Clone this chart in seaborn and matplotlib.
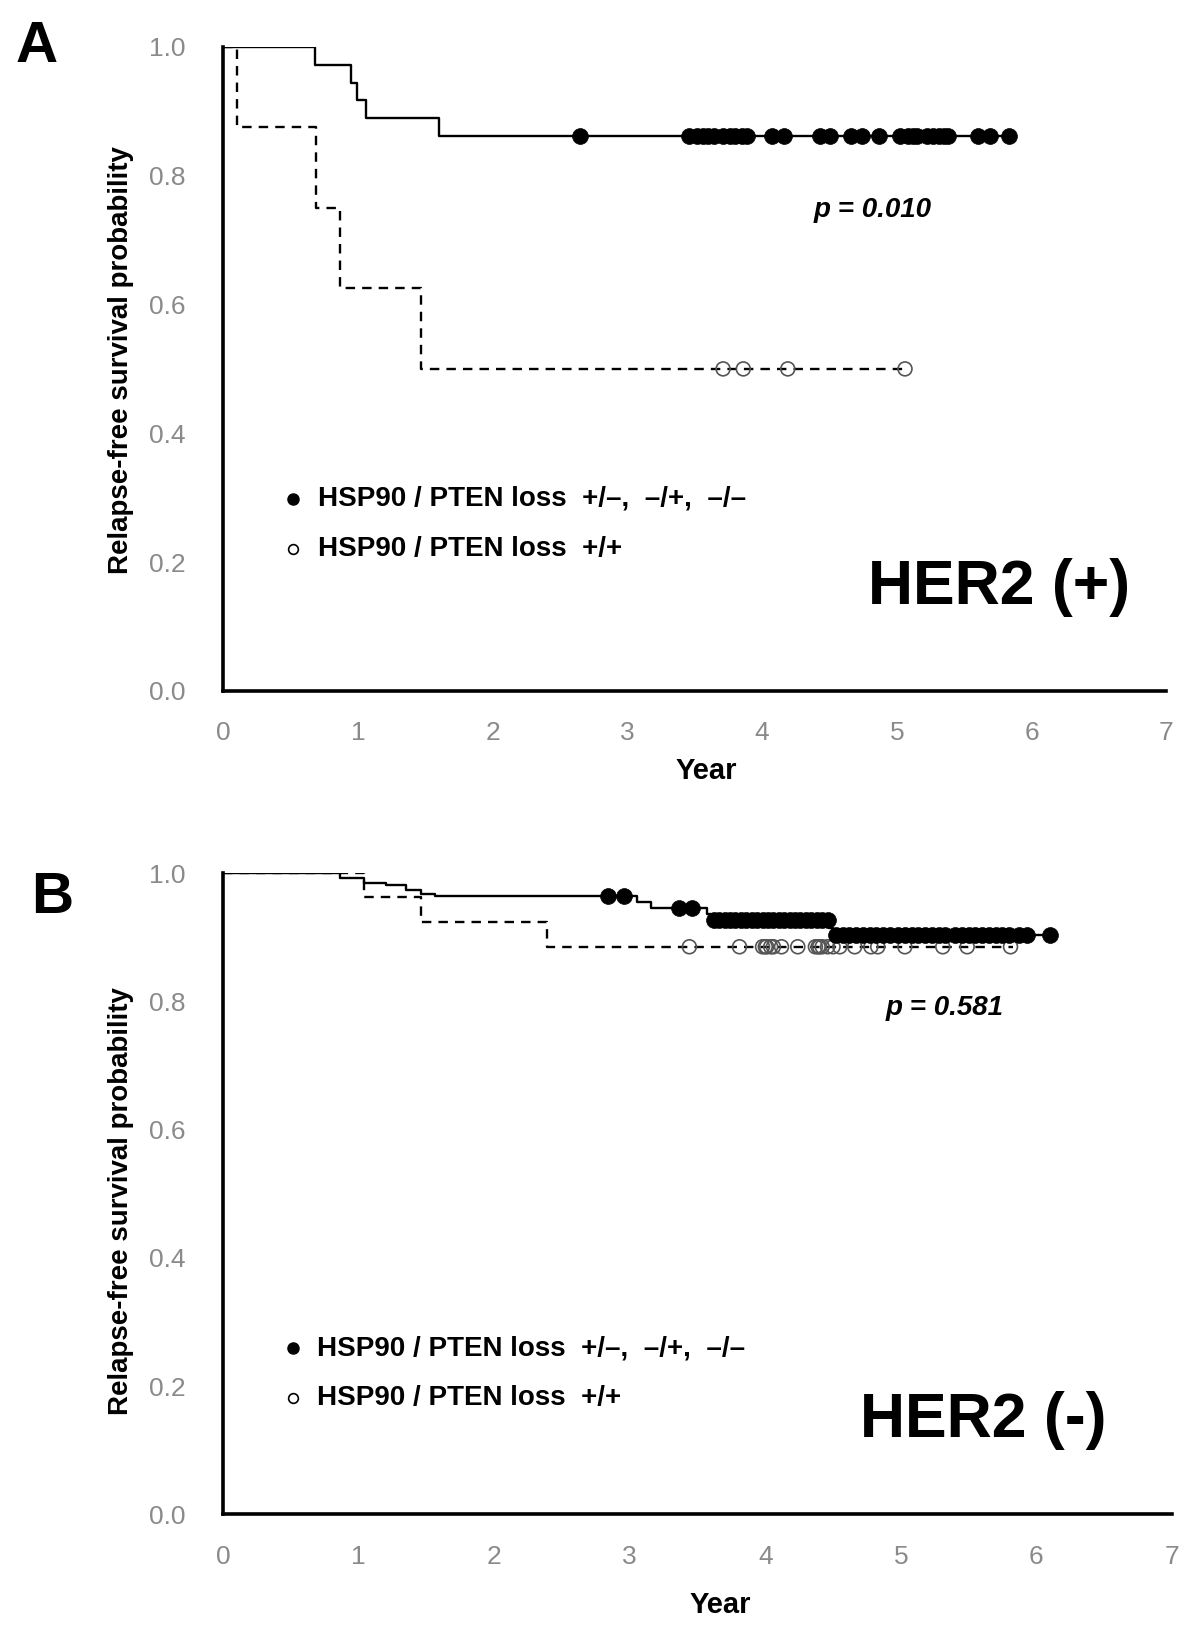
import matplotlib
matplotlib.use("Agg")
import matplotlib.pyplot as plt
import numpy as np
import pandas as pd
import seaborn as sns

sns.set_theme(style="white")
plt.rcParams['font.family'] = ['Liberation Sans', 'DejaVu Sans']
plt.rcParams['text.color'] = 'black'
plt.rcParams['axes.labelcolor'] = 'black'

NARROW = ['Liberation Sans Narrow', 'Liberation Sans', 'DejaVu Sans']
REG = ['Liberation Sans', 'DejaVu Sans']

# ---------------- data ----------------
# Panel A : HER2 (+)
a_solid_times = [0.0, 0.68, 0.95, 0.99, 1.06, 1.60]
a_solid_surv = [1.0, 0.972, 0.944, 0.917, 0.889, 0.861]
a_solid_end = 5.83
a_solid_cens = [2.65, 3.46, 3.52, 3.56, 3.60, 3.64, 3.71, 3.76, 3.80, 3.85, 3.89,
                4.07, 4.16, 4.43, 4.50, 4.66, 4.74, 4.87, 5.02, 5.08, 5.12, 5.15,
                5.22, 5.27, 5.31, 5.35, 5.38, 5.60, 5.69, 5.83]
a_dash_times = [0.0, 0.10, 0.69, 0.865, 1.47]
a_dash_surv = [1.0, 0.875, 0.75, 0.625, 0.5]
a_dash_end = 5.06
a_dash_cens = [3.71, 3.86, 4.19, 5.06]

# Panel B : HER2 (-)
b_solid_times = [0.0, 0.86, 1.04, 1.20, 1.35, 1.46, 1.56, 3.05, 3.16, 3.57, 3.60, 4.47, 4.50]
b_solid_surv = [1.0, 0.992, 0.985, 0.981, 0.973, 0.968, 0.964, 0.955, 0.945, 0.936, 0.927, 0.915, 0.904]
b_solid_end = 6.12
b_solid_cens = [2.84, 2.96, 3.36, 3.46,
                3.62, 3.66, 3.70, 3.74, 3.78, 3.82, 3.86, 3.90, 3.94, 3.98, 4.02, 4.06,
                4.10, 4.14, 4.18, 4.22, 4.26, 4.30, 4.34, 4.38, 4.42, 4.46,
                4.52, 4.57, 4.62, 4.67, 4.72, 4.77, 4.82, 4.87, 4.92,
                4.98, 5.03, 5.08, 5.13, 5.18, 5.23, 5.28, 5.33,
                5.40, 5.45, 5.50, 5.55, 5.60, 5.65, 5.70, 5.75, 5.80, 5.87, 5.93, 6.10]
b_dash_times = [0.0, 1.04, 1.46, 2.39]
b_dash_surv = [1.0, 0.962, 0.923, 0.885]
b_dash_end = 5.83
b_dash_cens = [3.44, 3.81, 3.98, 4.00, 4.01, 4.04, 4.06, 4.12, 4.24, 4.37, 4.39, 4.40,
               4.42, 4.46, 4.50, 4.55, 4.66, 4.78, 4.83, 5.03, 5.31, 5.49, 5.81]

x_ticks = [0, 1, 2, 3, 4, 5, 6, 7]
y_ticks = [0.0, 0.2, 0.4, 0.6, 0.8, 1.0]
legend_labels = ["HSP90 / PTEN loss  +/\u2013,  \u2013/+,  \u2013/\u2013",
                 "HSP90 / PTEN loss  +/+"]
y_label = "Relapse-free survival probability"
x_label = "Year"


def level_at(times, surv, t):
    idx = np.searchsorted(np.asarray(times), t, side='right') - 1
    return np.asarray(surv)[idx]


def draw_curve(ax, times, surv, end, cens, dashed, filled):
    df = pd.DataFrame({'t': list(times) + [end], 's': list(surv) + [surv[-1]]})
    kw = dict(color='black', linewidth=1.7, drawstyle='steps-post',
              estimator=None, sort=False, legend=False)
    if dashed:
        kw['linestyle'] = (0, (4, 3))
    sns.lineplot(data=df, x='t', y='s', ax=ax, **kw)
    cdf = pd.DataFrame({'t': cens, 's': level_at(times, surv, cens)})
    if filled:
        sns.scatterplot(data=cdf, x='t', y='s', ax=ax, s=130, color='black',
                        edgecolor='black', linewidth=0.5, zorder=5, clip_on=False)
    else:
        sns.scatterplot(data=cdf, x='t', y='s', ax=ax, s=100, facecolor='none',
                        edgecolor='#555555', linewidth=1.2, zorder=5, clip_on=False)


def style_axes(ax, xlab_pos, ylab_pos):
    ax.set_xlim(0, 7)
    ax.set_ylim(0, 1.0)
    ax.set_xticks(x_ticks)
    ax.set_yticks(y_ticks)
    ax.set_xticklabels([str(v) for v in x_ticks])
    ax.set_yticklabels([f"{v:.1f}" for v in y_ticks])
    for s in ['top', 'right']:
        ax.spines[s].set_visible(False)
    for s in ['left', 'bottom']:
        ax.spines[s].set_visible(True)
        ax.spines[s].set_color('black')
        ax.spines[s].set_linewidth(2.6)
    ax.tick_params(axis='both', direction='in', length=6, width=2, color='black',
                   labelcolor='#8a8a8a', labelsize=19)
    ax.tick_params(axis='y', pad=27)
    ax.tick_params(axis='x', pad=22)
    for lab in ax.get_xticklabels() + ax.get_yticklabels():
        lab.set_fontfamily(NARROW)
    ax.set_xlabel(x_label, fontsize=21, fontweight='bold', family=NARROW, color='black')
    ax.set_ylabel(y_label, fontsize=20, fontweight='bold', family=REG, color='black')
    ax.xaxis.set_label_coords(*xlab_pos)
    ax.yaxis.set_label_coords(*ylab_pos)
    ax.grid(False)
    ax.set_facecolor('white')


def legend_block(ax, xdot, xtext, y1, y2):
    ax.plot([xdot], [y1], marker='o', ms=8, color='black', linestyle='none')
    ax.plot([xdot], [y2], marker='o', ms=7, mfc='white', mec='black', mew=1.2,
            linestyle='none')
    ax.text(xtext, y1, legend_labels[0], fontsize=20, fontweight='bold',
            family=NARROW, va='center', ha='left', color='black')
    ax.text(xtext, y2, legend_labels[1], fontsize=20, fontweight='bold',
            family=NARROW, va='center', ha='left', color='black')


fig = plt.figure(figsize=(12, 16.37), dpi=100)
fig.patch.set_facecolor('white')

axA = fig.add_axes([0.186, 0.578, 0.786, 0.3933])
axB = fig.add_axes([0.186, 0.0749, 0.7905, 0.3918])

# Panel A
draw_curve(axA, a_dash_times, a_dash_surv, a_dash_end, a_dash_cens, True, False)
draw_curve(axA, a_solid_times, a_solid_surv, a_solid_end, a_solid_cens, False, True)
style_axes(axA, (0.512, -0.103), (-0.095, 0.514))
legend_block(axA, 0.52, 0.70, 0.298, 0.22)
axA.text(4.82, 0.747, "p = 0.010", fontsize=20, fontweight='bold', style='italic',
         family=REG, ha='center', va='center', color='black')
axA.text(5.76, 0.16, "HER2 (+)", fontsize=45, fontweight='bold', family=NARROW,
         ha='center', va='center', color='black')

# Panel B
draw_curve(axB, b_dash_times, b_dash_surv, b_dash_end, b_dash_cens, True, False)
draw_curve(axB, b_solid_times, b_solid_surv, b_solid_end, b_solid_cens, False, True)
style_axes(axB, (0.524, -0.119), (-0.094, 0.489))
legend_block(axB, 0.515, 0.69, 0.259, 0.182)
axB.text(5.32, 0.79, "p = 0.581", fontsize=20, fontweight='bold', style='italic',
         family=REG, ha='center', va='center', color='black')
axB.text(5.61, 0.147, "HER2 (-)", fontsize=45, fontweight='bold', family=NARROW,
         ha='center', va='center', color='black')

fig.text(36.5 / 1200, 1 - 47 / 1637, "A", fontsize=42, fontweight='bold',
         family=REG, ha='center', va='center', color='black')
fig.text(52 / 1200, 1 - 898 / 1637, "B", fontsize=42, fontweight='bold',
         family=REG, ha='center', va='center', color='black')

fig.savefig("out.png", dpi=100, facecolor='white')
